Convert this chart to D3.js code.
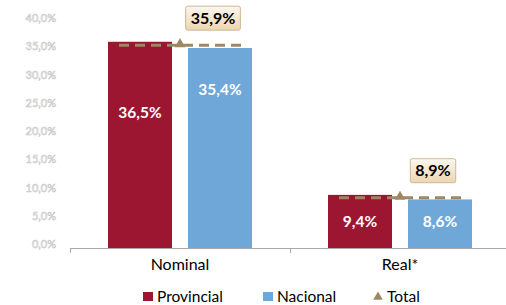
<!DOCTYPE html>
<html lang="es">
<head>
<meta charset="UTF-8" />
<title>Provincial / Nacional</title>
<script src="https://cdn.jsdelivr.net/npm/d3@7"></script>
<style>
  body { margin: 0; background: #fff; }
  svg text { font-family: Lato, "Open Sans", sans-serif; }
</style>
</head>
<body>
<svg id="vis" width="506" height="305"></svg>
<script>
// datos
var categorias = ["Nominal", "Real*"];
var series = ["Provincial", "Nacional"];
var provincial = [36.5, 9.4];
var nacional = [35.4, 8.6];
var total = [35.9, 8.9];
var ticksY = [0, 5, 10, 15, 20, 25, 30, 35, 40];

var colores = { Provincial: "#9c1531", Nacional: "#6fa8d8", Total: "#9e8862" };

function fmt(v) {
  return v.toFixed(1).replace(".", ",") + "%";
}

var svg = d3.select("#vis");

// gradiente para las etiquetas del total
var grad = svg.append("defs").append("linearGradient")
  .attr("id", "caja").attr("x1", 0).attr("y1", 0).attr("x2", 0).attr("y2", 1);
grad.append("stop").attr("offset", "0%").attr("stop-color", "#fdf7ee");
grad.append("stop").attr("offset", "100%").attr("stop-color", "#ecd6b2");

// escalas
var x = d3.scaleBand().domain(categorias).range([70, 510]).padding(0);
var x1 = d3.scaleBand().domain(series).range([0, x.bandwidth()])
  .paddingInner(0.2).paddingOuter(0.475);
var y = d3.scaleLinear().domain([0, 40]).range([248, 22]);

// eje Y
var gy = svg.append("g").attr("transform", "translate(56,-4)")
  .call(d3.axisLeft(y).tickValues(ticksY).tickSize(0).tickPadding(0).tickFormat(fmt));
gy.select(".domain").remove();
gy.selectAll("text")
  .attr("font-size", 11)
  .attr("fill", "#fafafa")
  .attr("stroke", "#c4c4c4")
  .attr("stroke-width", 0.55);

// barras
var filas = categorias.map(function (c, i) {
  return { cat: c, Provincial: provincial[i], Nacional: nacional[i], Total: total[i] };
});

var grupos = svg.selectAll("g.cat").data(filas).enter().append("g")
  .attr("class", "cat")
  .attr("transform", function (d) { return "translate(" + x(d.cat) + ",0)"; });

grupos.selectAll("rect").data(function (d) {
  return series.map(function (s) { return { s: s, v: d[s] }; });
}).enter().append("rect")
  .attr("x", function (d) { return x1(d.s); })
  .attr("y", function (d) { return y(d.v); })
  .attr("width", x1.bandwidth())
  .attr("height", function (d) { return y(0) - y(d.v); })
  .attr("fill", function (d) { return colores[d.s]; });

// etiquetas dentro de las barras
var etiquetaY = [[113, 90], [222, 222]];
grupos.each(function (d, i) {
  var g = d3.select(this);
  series.forEach(function (s, j) {
    g.append("text")
      .attr("x", x1(s) + x1.bandwidth() / 2)
      .attr("y", etiquetaY[i][j])
      .attr("dy", "0.35em")
      .attr("text-anchor", "middle")
      .attr("font-size", 15.5)
      .attr("font-weight", "bold")
      .attr("fill", "#fff")
      .text(fmt(d[s]));
  });
});

// eje X
svg.append("line")
  .attr("x1", 70).attr("x2", 510)
  .attr("y1", 248.5).attr("y2", 248.5)
  .attr("stroke", "#a9a9a9");
svg.selectAll("line.limite").data([0, 1, 2]).enter().append("line")
  .attr("class", "limite")
  .attr("x1", function (d) { return 70.5 + d * x.step(); })
  .attr("x2", function (d) { return 70.5 + d * x.step(); })
  .attr("y1", 248).attr("y2", 253)
  .attr("stroke", "#a9a9a9");
var gx = svg.append("g").attr("transform", "translate(0,248)")
  .call(d3.axisBottom(x).tickSize(0).tickPadding(11));
gx.select(".domain").remove();
gx.selectAll("text").attr("font-size", 16).attr("fill", "#000");

// total: linea discontinua, triangulo y caja
grupos.each(function (d) {
  var g = d3.select(this);
  var cx = x.bandwidth() / 2;
  var ty = y(d.Total);
  g.append("line")
    .attr("x1", cx - 61).attr("x2", cx + 61)
    .attr("y1", ty).attr("y2", ty)
    .attr("stroke", colores.Total)
    .attr("stroke-width", 3)
    .attr("stroke-dasharray", "10,6");
  g.append("path")
    .attr("d", d3.symbol(d3.symbolTriangle, 48)())
    .attr("transform", "translate(" + cx + "," + (ty - 1) + ")")
    .attr("fill", colores.Total);
  var t = g.append("text")
    .attr("x", cx + 33)
    .attr("y", ty - 27)
    .attr("dy", "0.35em")
    .attr("text-anchor", "middle")
    .attr("font-size", 16)
    .attr("font-weight", "bold")
    .attr("fill", "#000")
    .text(fmt(d.Total));
  var b = t.node().getBBox();
  g.insert("rect", "text:last-of-type")
    .attr("x", b.x - 5).attr("y", ty - 39)
    .attr("width", b.width + 10).attr("height", 24)
    .attr("rx", 2)
    .attr("fill", "url(#caja)")
    .attr("stroke", "#cdb892")
    .attr("stroke-width", 1);
  t.raise();
});

// leyenda
var leyenda = [
  { n: "Provincial", x: 143, tipo: "cuadro" },
  { n: "Nacional", x: 263, tipo: "cuadro" },
  { n: "Total", x: 373, tipo: "triangulo" }
];
var gl = svg.selectAll("g.ley").data(leyenda).enter().append("g")
  .attr("class", "ley")
  .attr("transform", function (d) { return "translate(" + d.x + ",296)"; });
gl.filter(function (d) { return d.tipo === "cuadro"; }).append("rect")
  .attr("x", 0).attr("y", -4).attr("width", 10).attr("height", 9)
  .attr("fill", function (d) { return colores[d.n]; });
gl.filter(function (d) { return d.tipo === "triangulo"; }).append("path")
  .attr("d", d3.symbol(d3.symbolTriangle, 40)())
  .attr("transform", "translate(5,1)")
  .attr("fill", colores.Total);
gl.append("text")
  .attr("x", 14).attr("y", 5.5)
  .attr("font-size", 15.5)
  .attr("fill", "#000")
  .text(function (d) { return d.n; });
</script>
</body>
</html>
